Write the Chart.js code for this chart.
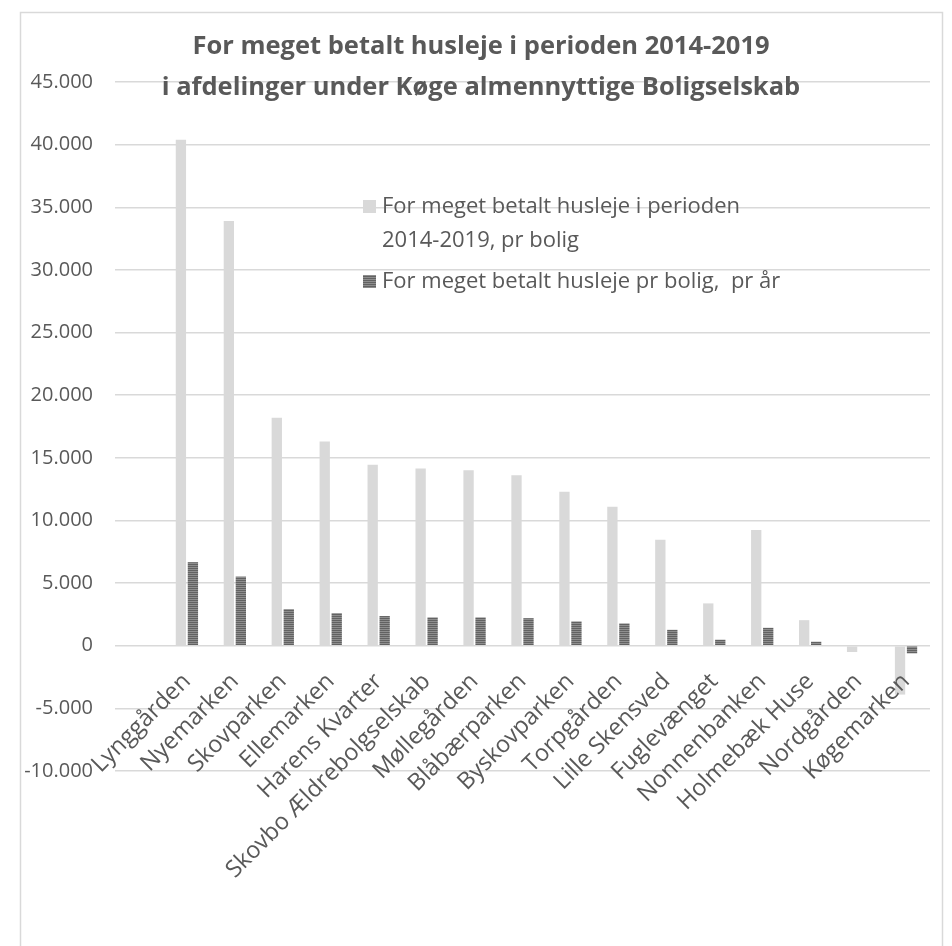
<!DOCTYPE html>
<html>
<head>
<meta charset="utf-8">
<script src="https://cdn.jsdelivr.net/npm/chart.js@4.4.1/dist/chart.umd.min.js"></script>
<style>
html, body { margin: 0; padding: 0; background: #fff; }
#wrap { position: relative; width: 952px; height: 946px; }
</style>
</head>
<body>
<div id="wrap"><canvas id="c" width="952" height="946"></canvas></div>
<script>
// ---- data ----
const categories = ['', 'Lynggården', 'Nyemarken', 'Skovparken', 'Ellemarken', 'Harens Kvarter',
  'Skovbo Ældrebolgselskab', 'Møllegården', 'Blåbærparken', 'Byskovparken', 'Torpgården',
  'Lille Skensved', 'Fuglevænget', 'Nonnenbanken', 'Holmebæk Huse', 'Nordgården', 'Køgemarken'];
const totalPerBolig = [null, 40400, 33900, 18200, 16300, 14450, 14150, 14000, 13600, 12300, 11100,
  8450, 3380, 9230, 2040, -500, -3900];
const perBoligPerAar = [null, 6670, 5520, 2920, 2600, 2370, 2260, 2260, 2200, 1940, 1780,
  1270, 480, 1430, 320, 0, -610];
const seriesLabels = ['For meget betalt husleje i perioden 2014-2019, pr bolig',
  'For meget betalt husleje pr bolig,  pr år'];
const titleLines = ['For meget betalt husleje i perioden 2014-2019',
  'i afdelinger under Køge almennyttige Boligselskab'];
const yMin = -10000, yMax = 45000, yStep = 5000;

// ---- styles ----
const TXT = '#595959';
const FONT = "'Open Sans', 'Liberation Sans', sans-serif";
const TITLE_FONT = "'Open Sans', 'Liberation Sans', sans-serif";

function stripePattern() {
  const p = document.createElement('canvas');
  p.width = 4; p.height = 2;
  const g = p.getContext('2d');
  g.fillStyle = '#8e8e8e'; g.fillRect(0, 0, 4, 2);
  g.fillStyle = '#626262'; g.fillRect(0, 0, 4, 1);
  return g.createPattern(p, 'repeat');
}
const darkFill = stripePattern();
const lightFill = '#d9d9d9';

function fmt(v) {
  if (v === 0) return '0';
  const s = String(Math.abs(v)).replace(/\B(?=(\d{3})+(?!\d))/g, '.');
  return (v < 0 ? '-' : '') + s;
}

function wrapText(ctx, text, maxW) {
  const words = text.split(' ');
  const lines = [];
  let cur = '';
  for (const w of words) {
    const t = cur ? cur + ' ' + w : w;
    if (ctx.measureText(t).width > maxW && cur) { lines.push(cur); cur = w; }
    else cur = t;
  }
  if (cur) lines.push(cur);
  return lines;
}

const decor = {
  id: 'decor',
  beforeDraw(chart) {
    const ctx = chart.ctx;
    ctx.save();
    ctx.fillStyle = '#fff';
    ctx.fillRect(0, 0, chart.width, chart.height);
    ctx.strokeStyle = '#d9d9d9';
    ctx.lineWidth = 1.5;
    ctx.strokeRect(20.5, 12.5, 922, 960);
    ctx.restore();
  },
  afterDraw(chart) {
    const ctx = chart.ctx;
    ctx.save();
    // title
    ctx.fillStyle = TXT;
    ctx.textAlign = 'center';
    ctx.textBaseline = 'middle';
    ctx.font = "bold 25.5px " + TITLE_FONT;
    ctx.fillText(titleLines[0], 481, 47);
    ctx.fillText(titleLines[1], 481, 88);
    // legend
    ctx.textAlign = 'left';
    ctx.font = "22px " + FONT;
    const ds = chart.data.datasets;
    let y = 207;
    const boxX = 363, textX = 382;
    ds.forEach((d, i) => {
      const lines = wrapText(ctx, d.label, 430);
      ctx.fillStyle = d.backgroundColor;
      ctx.fillRect(boxX, y - 7, 13, 13);
      ctx.fillStyle = TXT;
      lines.forEach((ln, k) => ctx.fillText(ln, textX, y + k * 34));
      y += lines.length * 34 + 7;
    });
    ctx.restore();
  }
};

new Chart(document.getElementById('c'), {
  type: 'bar',
  data: {
    labels: categories,
    datasets: [
      { label: seriesLabels[0], data: totalPerBolig, backgroundColor: lightFill },
      { label: seriesLabels[1], data: perBoligPerAar, backgroundColor: darkFill }
    ]
  },
  options: {
    responsive: false,
    animation: false,
    devicePixelRatio: 1,
    categoryPercentage: 0.5,
    barPercentage: 0.86,
    layout: { padding: { left: 0, top: 82, right: 22, bottom: 175 } },
    plugins: {
      legend: { display: false },
      title: { display: false },
      tooltip: { enabled: false }
    },
    scales: {
      x: {
        position: { y: 0 },
        grid: { display: false },
        border: { display: false },
        ticks: {
          z: 1,
          autoSkip: false, minRotation: 45, maxRotation: 45, padding: 14,
          color: TXT, font: { family: FONT, size: 23.5 }
        },
        afterFit(axis) { axis.height = 0; }
      },
      y: {
        min: yMin, max: yMax,
        ticks: {
          stepSize: yStep, padding: 22, color: TXT,
          font: { family: FONT, size: 20 },
          callback: v => fmt(v)
        },
        grid: { color: '#d9d9d9', lineWidth: 1.5, drawTicks: false },
        border: { display: false },
        afterFit(axis) { axis.width = 115; }
      }
    }
  },
  plugins: [decor]
});
</script>
</body>
</html>
